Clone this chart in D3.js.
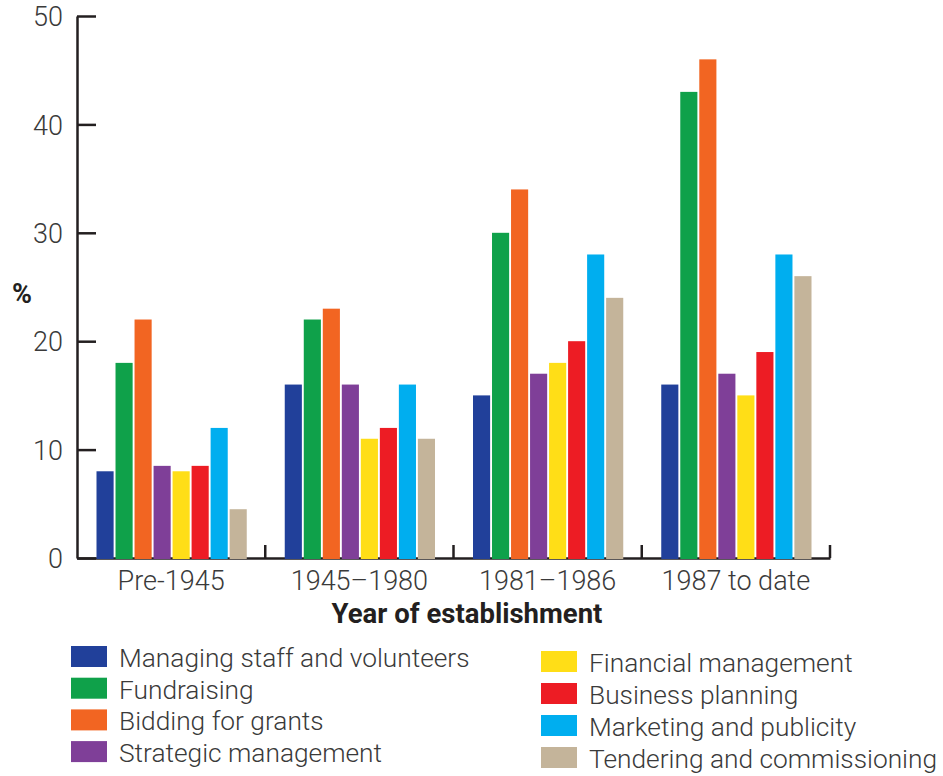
<!DOCTYPE html>
<html>
<head>
<meta charset="utf-8">
<script src="https://cdn.jsdelivr.net/npm/d3@7"></script>
<style>
  html, body { margin: 0; padding: 0; background: #fff; }
  svg { display: block; }
  text { font-family: Roboto, "Open Sans", sans-serif; }
</style>
</head>
<body>
<svg id="chart" width="943" height="776"></svg>
<script>
// Periods of establishment (x groups)
const categories = ["Pre-1945", "1945\u20131980", "1981\u20131986", "1987 to date"];

// Skill areas (one bar per group)
const seriesNames = [
  "Managing staff and volunteers",
  "Fundraising",
  "Bidding for grants",
  "Strategic management",
  "Financial management",
  "Business planning",
  "Marketing and publicity",
  "Tendering and commissioning"
];

// Percentages, one array per skill area, in category order
const managingStaff = [8, 16, 15, 16];
const fundraising   = [18, 22, 30, 43];
const biddingGrants = [22, 23, 34, 46];
const strategicMgmt = [8.5, 16, 17, 17];
const financialMgmt = [8, 11, 18, 15];
const businessPlan  = [8.5, 12, 20, 19];
const marketing     = [12, 16, 28, 28];
const tendering     = [4.5, 11, 24, 26];

const seriesValues = [managingStaff, fundraising, biddingGrants, strategicMgmt,
                      financialMgmt, businessPlan, marketing, tendering];

const yTicks = [0, 10, 20, 30, 40, 50];

const colors = ["#21409a", "#0fa14a", "#f26522", "#7f3f98",
                "#ffde17", "#ed1c24", "#00aeef", "#c4b49a"];

const svg = d3.select("#chart");
const axisColor = "#231f20";
const labelColor = "#3a3a3a";

const plot = { left: 77, right: 830, top: 16, bottom: 558 };

const y = d3.scaleLinear().domain([0, 50]).range([plot.bottom, plot.top]);
const x0 = d3.scaleBand().domain(categories).range([plot.left, plot.right]).padding(0);
const x1 = d3.scaleBand().domain(seriesNames)
  .range([19.5, x0.bandwidth() - 18.5]).paddingInner(0.1).paddingOuter(0);
const color = d3.scaleOrdinal().domain(seriesNames).range(colors);

// Y axis: ticks point inward
const yAxis = svg.append("g")
  .attr("transform", `translate(${plot.left},0)`)
  .call(d3.axisLeft(y).tickValues(yTicks).tickSizeInner(-19).tickSizeOuter(0).tickPadding(14));
yAxis.select(".domain").attr("stroke", axisColor).attr("stroke-width", 2.5);
yAxis.selectAll(".tick line").attr("stroke", axisColor).attr("stroke-width", 2.5);
yAxis.selectAll(".tick text")
  .attr("fill", labelColor).attr("font-size", 27).attr("font-weight", 300)
  .attr("font-family", "Roboto, sans-serif").attr("dy", "0.36em");

// X axis baseline with group separators
const xAxis = svg.append("g")
  .attr("transform", `translate(0,${plot.bottom})`)
  .call(d3.axisBottom(x0).tickSize(0).tickPadding(0));
xAxis.select(".domain").attr("stroke", axisColor).attr("stroke-width", 2.5);
xAxis.selectAll(".tick text")
  .attr("fill", labelColor).attr("font-size", 27).attr("font-weight", 300)
  .attr("font-family", "Roboto, sans-serif").attr("y", 32).attr("dy", 0);

const separators = categories.slice(1).map(c => x0(c)).concat([plot.right]);
xAxis.selectAll("line.sep").data(separators).join("line")
  .attr("class", "sep")
  .attr("x1", d => d).attr("x2", d => d)
  .attr("y1", 0).attr("y2", -13)
  .attr("stroke", axisColor).attr("stroke-width", 2.5);

// Bars
const groups = svg.append("g").selectAll("g")
  .data(categories).join("g")
  .attr("transform", d => `translate(${x0(d)},0)`);

groups.selectAll("rect")
  .data((c, ci) => seriesNames.map((s, si) => ({ s, v: seriesValues[si][ci] })))
  .join("rect")
  .attr("x", d => x1(d.s))
  .attr("width", x1.bandwidth())
  .attr("y", d => y(d.v))
  .attr("height", d => y(0) - y(d.v) + 1)
  .attr("fill", d => color(d.s));

// Axis titles
svg.append("text")
  .attr("x", 467).attr("y", 623)
  .attr("text-anchor", "middle")
  .attr("font-size", 27.5).attr("font-weight", 700)
  .attr("fill", "#231f20")
  .text("Year of establishment");

svg.append("text")
  .attr("x", 22).attr("y", 303)
  .attr("text-anchor", "middle")
  .attr("font-size", 27).attr("font-weight", 700)
  .attr("fill", "#231f20")
  .text("%");

// Legend: two columns of four
const legendCols = [
  { x: 71, y: 646, step: 31.7, items: seriesNames.slice(0, 4) },
  { x: 541, y: 651, step: 32, items: seriesNames.slice(4) }
];
legendCols.forEach(col => {
  const g = svg.append("g");
  const rows = g.selectAll("g").data(col.items).join("g")
    .attr("transform", (d, i) => `translate(${col.x},${col.y + i * col.step})`);
  rows.append("rect")
    .attr("width", 36).attr("height", 21)
    .attr("fill", d => color(d));
  rows.append("text")
    .attr("x", 48).attr("y", 21)
    .attr("font-size", 26.3).attr("font-weight", 300)
    .attr("fill", labelColor)
    .text(d => d);
});
</script>
</body>
</html>
